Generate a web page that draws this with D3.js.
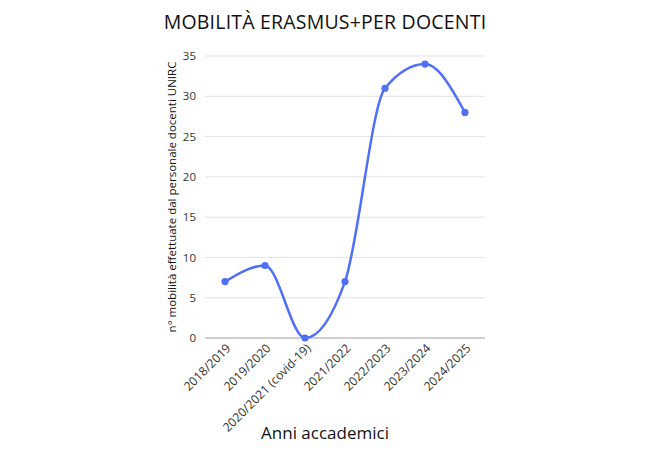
<!DOCTYPE html>
<html><head><meta charset="utf-8">
<script src="https://cdn.jsdelivr.net/npm/d3@7"></script>
<style>body{margin:0;background:#fff;} svg{display:block;}</style>
</head><body><svg id="c" width="650" height="460"></svg>
<script>
const categories = ["2018/2019","2019/2020","2020/2021 (covid-19)","2021/2022","2022/2023","2023/2024","2024/2025"];
const values = [7, 9, 0, 7, 31, 34, 28];
const yTicks = [0,5,10,15,20,25,30,35];
const titleText = "MOBILITÀ ERASMUS+PER DOCENTI";
const xTitle = "Anni accademici";
const yTitle = "n° mobilità effettuate dal personale docenti UNIRC";

const svg = d3.select("#c");
const font = "'Open Sans', 'Noto Sans', sans-serif";
const m = {l:205, r:165, t:56, b:122};
const W = 650, H = 460;
const x = d3.scalePoint().domain(categories).range([m.l, W - m.r]).padding(0.5);
const y = d3.scaleLinear().domain([0,35]).range([H - m.b, m.t]);

// grid
svg.append("g").selectAll("line").data(yTicks).join("line")
  .attr("x1", m.l).attr("x2", W - m.r)
  .attr("y1", d => y(d)).attr("y2", d => y(d))
  .attr("stroke", d => d === 0 ? "#9e9e9e" : "#e2e2e2").attr("stroke-width", 1);

// y axis labels
const ya = svg.append("g").attr("transform", `translate(${m.l},0)`)
  .call(d3.axisLeft(y).tickValues(yTicks).tickSize(0).tickPadding(9));
ya.select(".domain").remove();
ya.selectAll("text").attr("font-family", font).attr("font-size", 11.5).attr("fill", "#333");

// x axis labels
const xa = svg.append("g").attr("transform", `translate(0,${y(0)})`)
  .call(d3.axisBottom(x).tickSize(0).tickPadding(0));
xa.select(".domain").remove();
xa.selectAll("text").attr("font-family", font).attr("font-size", 12.2).attr("fill", "#333")
  .attr("text-anchor", "end").attr("dy", 0)
  .attr("transform", "translate(6,11) rotate(-45)");

// line
const line = d3.line().x((d,i) => x(categories[i])).y(d => y(d)).curve(d3.curveMonotoneX);
svg.append("path").datum(values).attr("d", line)
  .attr("fill", "none").attr("stroke", "#4f6ff6").attr("stroke-width", 2.5);
svg.append("g").selectAll("circle").data(values).join("circle")
  .attr("cx", (d,i) => x(categories[i])).attr("cy", d => y(d)).attr("r", 3.6)
  .attr("fill", "#4f6ff6");

// titles
svg.append("text").attr("x", 325).attr("y", 29).attr("text-anchor", "middle")
  .attr("font-family", font).attr("font-size", 19.5).attr("letter-spacing", 0.2).attr("fill", "#111").text(titleText);
svg.append("text").attr("x", 325).attr("y", 439).attr("text-anchor", "middle")
  .attr("font-family", font).attr("font-size", 17).attr("fill", "#111").text(xTitle);
svg.append("text").attr("transform", `translate(176,${(y(0)+y(35))/2}) rotate(-90)`)
  .attr("text-anchor", "middle")
  .attr("font-family", font).attr("font-size", 11.5).attr("fill", "#111").text(yTitle);
</script></body></html>
